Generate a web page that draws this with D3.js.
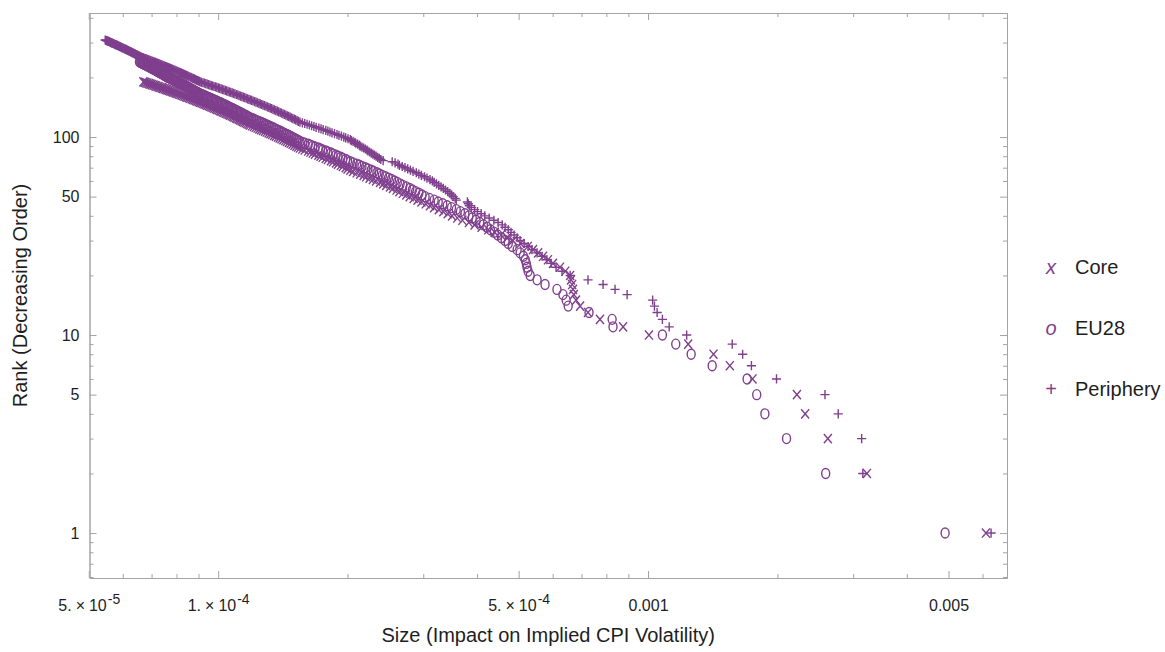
<!DOCTYPE html>
<meta charset="utf-8">
<style>
body { margin: 0; background: #fff; }
text { font-family: "Liberation Sans", Arial, sans-serif; }
</style>
<body>
<svg width="1165" height="652"></svg>
<script src="https://cdn.jsdelivr.net/npm/d3@7"></script>
<script>
// sizes in units of 1e-5, largest first; the rank of a point is its place in the list
var core = [611, 323, 262, 232, 222, 175, 155, 142, 124, 100.5,
  87.5, 77.3, 72.5, 69.5, 68.0, 67.2, 66.9, 66.6, 66.2, 65.9,
  64.2, 62.4, 60.1, 58.5, 57.0, 55.5, 54.0, 52.5, 50.5, 48.5,
  47.0, 45.5, 44.0, 42.5, 41.0, 39.5, 38.3, 37.0, 36.0, 35.0,
  34.2, 33.4, 32.6, 31.8, 31.1, 30.4, 29.7, 29.1, 28.5, 27.9,
  27.4, 26.9, 26.4, 26.0, 25.5, 25.1, 24.6, 24.2, 23.8, 23.3,
  22.9, 22.5, 22.1, 21.8, 21.4, 21.0, 20.6, 20.3, 20.0, 19.8,
  19.5, 19.3, 19.0, 18.8, 18.5, 18.3, 18.0, 17.8, 17.5, 17.3,
  17.1, 16.8, 16.6, 16.4, 16.2, 15.9, 15.7, 15.5, 15.35, 15.2,
  15.05, 14.9, 14.75, 14.61, 14.46, 14.32, 14.18, 14.04, 13.9, 13.77,
  13.63, 13.5, 13.36, 13.23, 13.1, 12.97, 12.85, 12.72, 12.59, 12.47,
  12.35, 12.23, 12.11, 11.99, 11.87, 11.78, 11.69, 11.6, 11.51, 11.42,
  11.34, 11.25, 11.17, 11.08, 11.0, 10.91, 10.83, 10.75, 10.66, 10.58,
  10.5, 10.42, 10.34, 10.26, 10.18, 10.11, 10.03, 9.95, 9.88, 9.8,
  9.73, 9.65, 9.58, 9.51, 9.43, 9.36, 9.29, 9.22, 9.15, 9.08,
  9.01, 8.94, 8.88, 8.81, 8.74, 8.68, 8.61, 8.55, 8.48, 8.42,
  8.35, 8.29, 8.23, 8.17, 8.1, 8.04, 7.98, 7.92, 7.86, 7.8,
  7.74, 7.68, 7.62, 7.57, 7.51, 7.45, 7.4, 7.34, 7.28, 7.23,
  7.17, 7.12, 7.07, 7.01, 6.96, 6.91, 6.85, 6.8, 6.75, 6.7];

var eu28 = [491, 259, 210, 187, 179, 170, 141, 126, 116, 108,
  82.9, 82.5, 72.9, 65.2, 64.5, 63.4, 61.4, 57.6, 55.2, 53.2,
  52.6, 52.3, 52.1, 51.8, 51.3, 50.4, 49.6, 48.3, 47.3, 46.5,
  45.6, 44.7, 43.9, 43.0, 42.2, 41.4, 40.6, 39.8, 39.0, 38.3,
  37.5, 36.6, 35.8, 34.9, 34.1, 33.3, 32.5, 31.8, 31.0, 30.3,
  29.8, 29.3, 28.8, 28.3, 27.9, 27.4, 26.9, 26.5, 26.1, 25.7,
  25.3, 24.9, 24.5, 24.1, 23.7, 23.4, 23.0, 22.7, 22.3, 22.0,
  21.6, 21.3, 21.0, 20.6, 20.3, 20.0, 19.8, 19.5, 19.3, 19.0,
  18.8, 18.5, 18.3, 18.0, 17.8, 17.5, 17.3, 17.1, 16.8, 16.6,
  16.4, 16.2, 15.9, 15.7, 15.5, 15.36, 15.23, 15.09, 14.96, 14.83,
  14.7, 14.57, 14.44, 14.31, 14.18, 14.06, 13.93, 13.81, 13.69, 13.57,
  13.45, 13.33, 13.21, 13.09, 12.98, 12.86, 12.75, 12.64, 12.52, 12.41,
  12.3, 12.19, 12.09, 11.98, 11.87, 11.79, 11.71, 11.63, 11.56, 11.48,
  11.4, 11.33, 11.25, 11.18, 11.1, 11.03, 10.95, 10.88, 10.81, 10.74,
  10.66, 10.59, 10.52, 10.45, 10.38, 10.31, 10.24, 10.18, 10.11, 10.04,
  9.97, 9.91, 9.84, 9.78, 9.71, 9.65, 9.58, 9.52, 9.46, 9.39,
  9.33, 9.27, 9.21, 9.14, 9.08, 9.04, 8.99, 8.95, 8.9, 8.86,
  8.82, 8.77, 8.73, 8.69, 8.65, 8.6, 8.56, 8.52, 8.48, 8.44,
  8.4, 8.36, 8.32, 8.28, 8.24, 8.2, 8.16, 8.12, 8.08, 8.04,
  8.0, 7.96, 7.92, 7.88, 7.85, 7.81, 7.77, 7.73, 7.69, 7.65,
  7.62, 7.59, 7.56, 7.53, 7.5, 7.48, 7.45, 7.42, 7.39, 7.36,
  7.33, 7.31, 7.28, 7.25, 7.22, 7.19, 7.17, 7.14, 7.11, 7.08,
  7.06, 7.03, 7.0, 6.98, 6.95, 6.92, 6.9, 6.87, 6.84, 6.82,
  6.79, 6.76, 6.74, 6.71, 6.69, 6.66, 6.64, 6.61, 6.58, 6.56];

var periphery = [628, 316, 314, 277, 258, 199, 174, 166, 157, 123,
  112, 108, 105, 103.5, 102.5, 89.4, 83.8, 78.6, 72.5, 65.9,
  63.1, 61.1, 59.5, 58.2, 56.7, 55.2, 53.7, 52.6, 51.5, 50.4,
  49.6, 48.8, 48.0, 47.3, 46.5, 45.8, 44.8, 43.8, 42.7, 41.7,
  40.9, 40.1, 39.5, 38.8, 38.4, 38.2, 38.0, 35.8, 35.6, 35.2,
  34.9, 34.6, 34.2, 33.8, 33.4, 33.0, 32.6, 32.2, 31.8, 31.5,
  31.1, 30.6, 30.2, 29.7, 29.3, 28.9, 28.4, 28.0, 27.6, 27.2,
  26.8, 26.4, 26.2, 25.8, 25.4, 24.2, 23.9, 23.7, 23.5, 23.3,
  23.1, 22.9, 22.7, 22.5, 22.3, 22.2, 22.0, 21.8, 21.6, 21.4,
  21.3, 21.1, 20.9, 20.8, 20.6, 20.4, 20.3, 20.05, 19.8, 19.6,
  19.35, 19.1, 18.9, 18.65, 18.4, 18.2, 18.0, 17.8, 17.55, 17.35,
  17.15, 16.9, 16.7, 16.5, 16.3, 16.1, 15.9, 15.7, 15.5, 15.38,
  15.27, 15.15, 15.04, 14.92, 14.81, 14.7, 14.59, 14.48, 14.37, 14.26,
  14.15, 14.04, 13.94, 13.83, 13.73, 13.62, 13.52, 13.42, 13.32, 13.22,
  13.12, 13.02, 12.92, 12.82, 12.72, 12.63, 12.53, 12.44, 12.34, 12.25,
  12.16, 12.06, 11.97, 11.88, 11.79, 11.7, 11.62, 11.53, 11.45, 11.36,
  11.28, 11.19, 11.11, 11.03, 10.94, 10.86, 10.78, 10.7, 10.62, 10.54,
  10.46, 10.39, 10.31, 10.23, 10.16, 10.08, 10.01, 9.93, 9.86, 9.78,
  9.71, 9.64, 9.57, 9.5, 9.43, 9.36, 9.29, 9.22, 9.15, 9.08,
  9.04, 8.99, 8.95, 8.9, 8.86, 8.81, 8.77, 8.73, 8.68, 8.64,
  8.6, 8.55, 8.51, 8.47, 8.43, 8.39, 8.34, 8.3, 8.26, 8.22,
  8.18, 8.14, 8.1, 8.06, 8.02, 7.98, 7.94, 7.9, 7.86, 7.82,
  7.78, 7.74, 7.7, 7.67, 7.63, 7.59, 7.55, 7.51, 7.48, 7.44,
  7.4, 7.37, 7.33, 7.29, 7.26, 7.22, 7.19, 7.15, 7.11, 7.08,
  7.04, 7.01, 6.97, 6.94, 6.9, 6.87, 6.84, 6.8, 6.77, 6.73,
  6.7, 6.67, 6.63, 6.6, 6.58, 6.56, 6.53, 6.51, 6.49, 6.47,
  6.44, 6.42, 6.4, 6.38, 6.36, 6.33, 6.31, 6.29, 6.27, 6.25,
  6.23, 6.2, 6.18, 6.16, 6.14, 6.12, 6.1, 6.08, 6.06, 6.04,
  6.01, 5.99, 5.97, 5.95, 5.93, 5.91, 5.89, 5.87, 5.85, 5.83,
  5.81, 5.79, 5.77, 5.75, 5.73, 5.71, 5.69, 5.67, 5.65, 5.63,
  5.62, 5.6, 5.58, 5.56, 5.54, 5.52, 5.5, 5.48, 5.46];

var seriesNames = ["Core", "EU28", "Periphery"],
    seriesMarks = ["x", "o", "+"];

var xMajor = [5e-5, 1e-4, 5e-4, 1e-3, 5e-3],
    xLabels = [["5.", "10", "-5"], ["1.", "10", "-4"], ["5.", "10", "-4"], ["0.001"], ["0.005"]],
    xMinor = [6e-5, 7e-5, 8e-5, 9e-5, 2e-4, 3e-4, 4e-4, 6e-4, 7e-4, 8e-4, 9e-4, 2e-3, 3e-3, 4e-3, 6e-3],
    yMajor = [1, 5, 10, 50, 100],
    yMinor = [0.6, 0.7, 0.8, 0.9, 2, 3, 4, 6, 7, 8, 9, 20, 30, 40, 60, 70, 80, 90, 200, 300, 400];

var svg = d3.select("svg"),
    mLeft = 89.5, mRight = 1007, mTop = 13, mBottom = 578,
    purple = "#7f3f8d",
    frameColor = "#a4a4a4",
    textColor = "#1e1e1e",
    font = "'Liberation Sans', Arial, sans-serif";

var x = d3.scaleLog().domain([5.02e-5, 6.84e-3]).range([mLeft, mRight]);
var y = d3.scaleLog().domain([0.593, 423]).range([mBottom, mTop]);

// frame: four axes with inward ticks
function frameAxis(axis, vals, len, pos) {
  var g = svg.append("g")
      .attr("transform", pos)
      .attr("color", frameColor)
      .call(axis.tickValues(vals).tickSize(-len).tickSizeOuter(0).tickFormat(""));
  g.selectAll("text").remove();
  return g;
}

var bx = "translate(0," + mBottom + ")", tx = "translate(0," + mTop + ")",
    ly = "translate(" + mLeft + ",0)", ry = "translate(" + mRight + ",0)";

frameAxis(d3.axisBottom(x), xMinor, 4, bx);
frameAxis(d3.axisTop(x), xMinor, 4, tx);
frameAxis(d3.axisTop(x), xMajor, 7, tx);
frameAxis(d3.axisLeft(y), yMinor, 4, ly);
frameAxis(d3.axisRight(y), yMinor, 4, ry);
frameAxis(d3.axisRight(y), yMajor, 7, ry);

var gxb = svg.append("g")
    .attr("transform", bx)
    .attr("color", frameColor)
    .call(d3.axisBottom(x).tickValues(xMajor).tickSize(-7).tickSizeOuter(0));
gxb.selectAll(".tick text").each(function(d, i) {
  var lab = xLabels[i];
  var t = d3.select(this).text(null)
      .attr("y", 33).attr("dy", null)
      .attr("fill", textColor)
      .style("font-size", "16px")
      .style("font-family", font);
  t.append("tspan").text(lab[0]);
  if (lab.length > 1) {
    t.append("tspan").attr("dx", 4).text("\u00d7");
    t.append("tspan").attr("dx", 4).text(lab[1]);
    t.append("tspan").attr("dx", 1).attr("dy", -7).style("font-size", "14px").text(lab[2]);
  }
});

svg.append("g")
    .attr("transform", ly)
    .attr("color", frameColor)
    .call(d3.axisLeft(y).tickValues(yMajor).tickSize(-7).tickSizeOuter(0).tickPadding(10)
      .tickFormat(d3.format("d")))
  .selectAll(".tick text")
    .attr("fill", textColor)
    .style("font-size", "16px")
    .style("font-family", font);

// axis titles
svg.append("text")
    .attr("x", (mLeft + mRight) / 2).attr("y", 642)
    .attr("text-anchor", "middle")
    .attr("fill", textColor)
    .style("font-size", "20px")
    .text("Size (Impact on Implied CPI Volatility)");

svg.append("text")
    .attr("transform", "translate(27," + (mTop + mBottom) / 2 + ") rotate(-90)")
    .attr("text-anchor", "middle")
    .attr("fill", textColor)
    .style("font-size", "20px")
    .text("Rank (Decreasing Order)");

// markers
function markPath(m) {
  if (m === "x") return "M-4,-4.6L4,4.6M-4,4.6L4,-4.6";
  if (m === "+") return "M-4.6,0L4.6,0M0,-4.6L0,4.6";
  return "M0,-5A4,5 0 1,1 0,5A4,5 0 1,1 0,-5Z";
}

[core, eu28, periphery].forEach(function(vals, s) {
  svg.append("g")
    .selectAll("path")
    .data(vals)
    .join("path")
      .attr("transform", function(d, i) { return "translate(" + x(d * 1e-5) + "," + y(i + 1) + ")"; })
      .attr("d", markPath(seriesMarks[s]))
      .attr("fill", "none")
      .attr("stroke", purple)
      .attr("stroke-width", 1.4);
});

// legend
var leg = svg.append("g");
seriesNames.forEach(function(name, i) {
  var yy = 274 + i * 61;
  leg.append("text")
      .attr("x", 1051).attr("y", yy)
      .attr("text-anchor", "middle")
      .attr("fill", purple)
      .style("font-size", "20px")
      .style("font-style", seriesMarks[i] === "+" ? "normal" : "italic")
      .text(seriesMarks[i]);
  leg.append("text")
      .attr("x", 1075).attr("y", yy)
      .attr("fill", textColor)
      .style("font-size", "20px")
      .text(name);
});
</script>
